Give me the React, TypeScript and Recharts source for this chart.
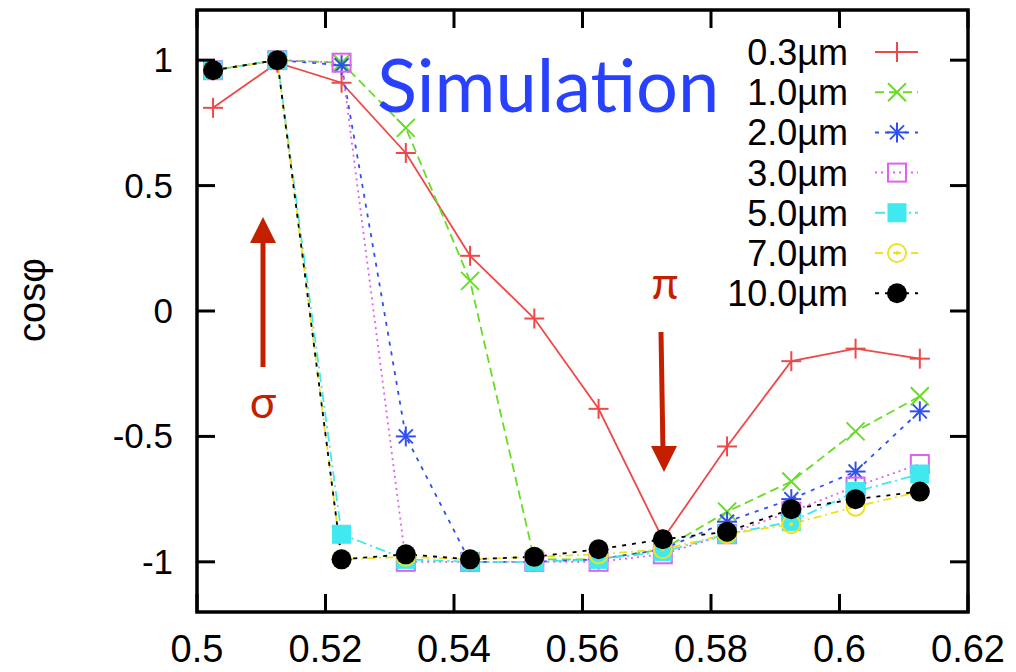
import React from 'react';
import { LineChart, Line, XAxis, YAxis, ReferenceArea } from 'recharts';

// wavelength (µm) of each sample
const wavelengths = [0.5025, 0.5125, 0.5225, 0.5325, 0.5425, 0.5525, 0.5625, 0.5725, 0.5825, 0.5925, 0.6025, 0.6125];

const cos03 = [0.81, 0.99, 0.91, 0.63, 0.22, -0.03, -0.39, -0.91, -0.54, -0.2, -0.15, -0.19];
const cos10 = [0.96, 1.0, 0.99, 0.73, 0.12, -0.99, -0.99, -0.95, -0.8, -0.68, -0.48, -0.34];
const cos20 = [0.96, 1.0, 0.98, -0.5, -1.0, -1.0, -0.99, -0.95, -0.84, -0.75, -0.64, -0.4];
const cos30 = [0.96, 1.0, 0.99, -1.0, -1.0, -1.0, -1.0, -0.97, -0.89, -0.8, -0.7, -0.61];
const cos50 = [0.96, 1.0, -0.89, -0.99, -1.0, -1.0, -0.99, -0.96, -0.89, -0.84, -0.72, -0.65];
const cos70 = [0.96, 1.0, -0.99, -0.98, -0.99, -0.98, -0.97, -0.95, -0.89, -0.85, -0.78, -0.72];
const cos100 = [0.96, 1.0, -0.99, -0.97, -0.99, -0.98, -0.95, -0.91, -0.88, -0.79, -0.75, -0.72];

const xTicks = [0.5, 0.52, 0.54, 0.56, 0.58, 0.6, 0.62];
const yTicks = [-1, -0.5, 0, 0.5, 1];

const series = [
  { name: '0.3µm', values: cos03, color: '#ee4848', dash: undefined, marker: 'plus' },
  { name: '1.0µm', values: cos10, color: '#66dd22', dash: '9 5', marker: 'cross' },
  { name: '2.0µm', values: cos20, color: '#3050ee', dash: '4 6', marker: 'star' },
  { name: '3.0µm', values: cos30, color: '#e060f0', dash: '2 4', marker: 'square' },
  { name: '5.0µm', values: cos50, color: '#40e8f0', dash: '10 4 2 4', marker: 'fsquare' },
  { name: '7.0µm', values: cos70, color: '#f0e020', dash: '8 4 2 4', marker: 'circle' },
  { name: '10.0µm', values: cos100, color: '#000000', dash: '4 6', marker: 'fcircle' },
];

const FONT = '"Liberation Sans", Arial, sans-serif';
const TOP = 10;
const BOTTOM = 612;
const LEFT = 197;
const RIGHT = 968;
const TICK = 18;
const DARK_RED = '#c42000';

function Marker({ kind, cx, cy, color }: { kind: string; cx: number; cy: number; color: string }) {
  const s = 10;
  const sw = 2;
  switch (kind) {
    case 'plus':
      return (
        <g stroke={color} strokeWidth={sw}>
          <line x1={cx - s} x2={cx + s} y1={cy} y2={cy} />
          <line x1={cx} x2={cx} y1={cy - s} y2={cy + s} />
        </g>
      );
    case 'cross':
      return (
        <g stroke={color} strokeWidth={sw}>
          <line x1={cx - 9} x2={cx + 9} y1={cy - 9} y2={cy + 9} />
          <line x1={cx - 9} x2={cx + 9} y1={cy + 9} y2={cy - 9} />
        </g>
      );
    case 'star':
      return (
        <g stroke={color} strokeWidth={sw}>
          <line x1={cx - s} x2={cx + s} y1={cy} y2={cy} />
          <line x1={cx} x2={cx} y1={cy - s} y2={cy + s} />
          <line x1={cx - 7} x2={cx + 7} y1={cy - 7} y2={cy + 7} />
          <line x1={cx - 7} x2={cx + 7} y1={cy + 7} y2={cy - 7} />
        </g>
      );
    case 'square':
      return <rect x={cx - 9} y={cy - 9} width={18} height={18} fill="none" stroke={color} strokeWidth={sw} />;
    case 'fsquare':
      return <rect x={cx - 9} y={cy - 9} width={18} height={18} fill={color} stroke={color} strokeWidth={1} />;
    case 'circle':
      return (
        <g stroke={color} strokeWidth={sw} fill="none">
          <circle cx={cx} cy={cy} r={9} />
          <circle cx={cx} cy={cy} r={1} fill={color} />
        </g>
      );
    default:
      return <circle cx={cx} cy={cy} r={10} fill={color} />;
  }
}

function XTick({ x, payload }: any) {
  return (
    <g>
      <line x1={x} x2={x} y1={BOTTOM} y2={BOTTOM - TICK} stroke="#000" strokeWidth={3} />
      <line x1={x} x2={x} y1={TOP} y2={TOP + TICK} stroke="#000" strokeWidth={3} />
      <text x={x} y={662} textAnchor="middle" fontSize={38} fontFamily={FONT} fill="#000">
        {String(payload.value)}
      </text>
    </g>
  );
}

function YTick({ y, payload }: any) {
  return (
    <g>
      <line x1={LEFT} x2={LEFT + TICK} y1={y} y2={y} stroke="#000" strokeWidth={3} />
      <line x1={RIGHT} x2={RIGHT - TICK} y1={y} y2={y} stroke="#000" strokeWidth={3} />
      <text x={173} y={y + 12} textAnchor="end" fontSize={35} fontFamily={FONT} fill="#000">
        {String(payload.value)}
      </text>
    </g>
  );
}

function LegendRows() {
  return (
    <g>
      {series.map((s, i) => {
        const cy = 52 + i * 40.2;
        return (
          <g key={s.name}>
            <text x={848} y={cy + 13} textAnchor="end" fontSize={36} fontFamily={FONT} fill="#000">
              {s.name}
            </text>
            <line x1={875} x2={918} y1={cy} y2={cy} stroke={s.color} strokeWidth={2} strokeDasharray={s.dash} />
            <Marker kind={s.marker} cx={897} cy={cy} color={s.color} />
          </g>
        );
      })}
    </g>
  );
}

export default function App() {
  return (
    <div style={{ position: 'absolute', left: 0, top: 0, width: 1016, height: 672, background: '#fff' }}>
      <LineChart width={1016} height={672} margin={{ top: TOP, right: 1016 - RIGHT, left: 0, bottom: 0 }}>
        <XAxis
          type="number"
          dataKey="x"
          domain={[0.5, 0.62]}
          ticks={xTicks}
          height={672 - BOTTOM}
          axisLine={false}
          tickLine={false}
          tick={<XTick />}
          allowDataOverflow
        />
        <YAxis
          type="number"
          domain={[-1.2, 1.2]}
          ticks={yTicks}
          width={LEFT}
          axisLine={false}
          tickLine={false}
          tick={<YTick />}
          allowDataOverflow
        />
        <ReferenceArea x1={0.5} x2={0.62} y1={-1.2} y2={1.2} fill="none" stroke="#000" strokeWidth={3.5} ifOverflow="visible" />
        {series.map((s) => (
          <Line
            key={s.name}
            name={s.name}
            data={wavelengths.map((x, i) => ({ x, y: s.values[i] }))}
            dataKey="y"
            stroke={s.color}
            strokeWidth={1.8}
            strokeDasharray={s.dash}
            isAnimationActive={false}
            dot={(p: any) => <Marker key={`${s.name}-${p.index}`} kind={s.marker} cx={p.cx} cy={p.cy} color={s.color} />}
            activeDot={false}
          />
        ))}
      </LineChart>
      <svg width={1016} height={672} style={{ position: 'absolute', left: 0, top: 0, pointerEvents: 'none' }}>
        <LegendRows />
        <text x={377} y={112} fontSize={74} fontFamily="Lato, sans-serif" fill="#2841ff">
          Simulation
        </text>
        <line x1={263} x2={263} y1={367} y2={238} stroke={DARK_RED} strokeWidth={5} />
        <polygon points="263,217 250,243 276,243" fill={DARK_RED} />
        <text x={263} y={418} textAnchor="middle" fontSize={44} fontFamily="Lato, sans-serif" fill={DARK_RED}>
          σ
        </text>
        <line x1={661} x2={663} y1={332} y2={452} stroke={DARK_RED} strokeWidth={5} />
        <polygon points="664,472 651,446 677,446" fill={DARK_RED} />
        <text x={665} y={299} textAnchor="middle" fontSize={44} fontFamily="Lato, sans-serif" fill={DARK_RED}>
          π
        </text>
        <text
          x={0}
          y={0}
          transform="translate(45,300) rotate(-90)"
          textAnchor="middle"
          fontSize={38}
          fontFamily={FONT}
          fill="#000"
        >
          cosφ
        </text>
      </svg>
    </div>
  );
}
